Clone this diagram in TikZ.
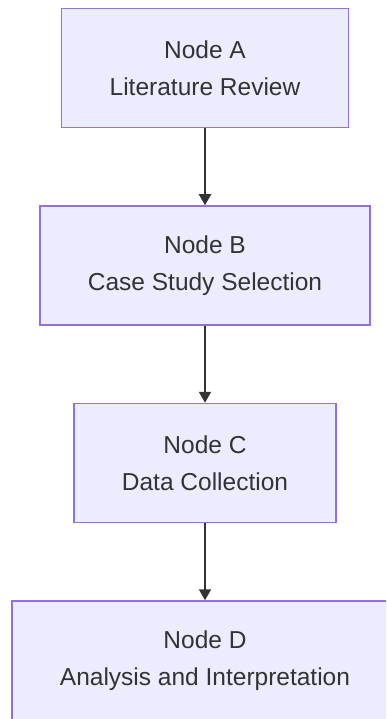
\documentclass[tikz,border=0pt]{standalone}
\usepackage{fontspec}
\setmainfont{Liberation Sans}
\usetikzlibrary{arrows.meta,positioning}
\definecolor{boxfill}{HTML}{ECECFF}
\definecolor{boxline}{HTML}{9370DB}
\definecolor{inkgrey}{HTML}{333333}
\tikzstyle{stage} = [rectangle, draw=boxline, fill=boxfill, line width=1.5pt, minimum height=119pt, inner xsep=48pt, align=center, text=inkgrey, font=\fontsize{24.5}{37}\selectfont]
\tikzstyle{arrow} = [line width=2pt, draw=inkgrey, -{Triangle[length=11pt,width=12pt]}]

\begin{document}
\begin{tikzpicture}[x=1pt, y=1pt, node distance=77pt]
	\clip (0,0) rectangle (386,-719);
	\node (nodeA) [stage] at (205,-68) {Node A\\Literature Review};
	\node (nodeB) [stage, below=of nodeA] {Node B\\Case Study Selection};
	\node (nodeC) [stage, below=of nodeB] {Node C\\Data Collection};
	\node (nodeD) [stage, below=of nodeC] {Node D\\Analysis and Interpretation};
	\draw [arrow] (nodeA) -- (nodeB);
	\draw [arrow] (nodeB) -- (nodeC);
	\draw [arrow] (nodeC) -- (nodeD);
\end{tikzpicture}
\end{document}
